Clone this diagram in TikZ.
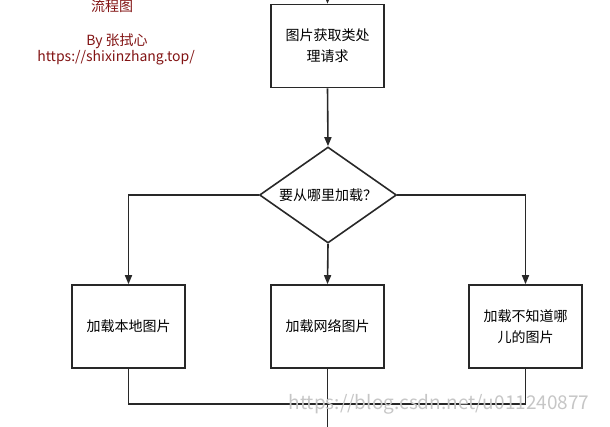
\documentclass[tikz,border=0pt]{standalone}
\usepackage{fontspec}
\setmainfont{Noto Sans CJK SC}
\usetikzlibrary{shapes.geometric,arrows.meta}
\definecolor{redtxt}{RGB}{130,20,20}
\definecolor{ln}{RGB}{40,40,40}
\tikzset{
  box/.style={draw=ln,line width=1.6pt,minimum width=113pt,minimum height=83pt,align=center,font=\fontsize{14}{21}\selectfont,text width=100pt},
  dia/.style={draw=ln,line width=1.6pt,diamond,minimum width=137pt,minimum height=96pt,inner sep=0pt,aspect=1.43,font=\fontsize{14}{16}\selectfont},
  conn/.style={draw=ln,line width=1.6pt},
  arr/.style={conn,-{Triangle[length=9pt,width=7pt]}},
  red/.style={text=redtxt,font=\fontsize{14}{16}\selectfont}
}
\begin{document}
\begin{tikzpicture}[x=1pt,y=-1pt]
\useasboundingbox (0,0) rectangle (610,426);
\node[red] (t1) at (112,6) {流程图};
\node[red] (t2) at (117,41) {By 张拭心};
\node[red] (t3) at (116,58) {https://shixinzhang.top/};
\node[box] (top) at (327.5,46) {图片获取类处\\理请求};
\coordinate (in) at (327.5,-2);
\draw[arr] (in) -- (top.north);
\node[dia] (d) at (328,195) {要从哪里加载？};
\draw[arr] (top.south) -- (d.north);
\node[box] (l) at (128.5,326.5) {加载本地图片};
\node[box] (m) at (327.5,326.5) {加载网络图片};
\node[box] (r) at (525.5,326.5) {加载不知道哪\\儿的图片};
\draw[arr] (d.west) -| (l.north);
\draw[arr] (d.east) -| (r.north);
\draw[arr] (d.south) -- (m.north);
\coordinate (bl) at (128.5,404);
\coordinate (br) at (525.5,404);
\coordinate (out) at (327.5,430);
\draw[conn] (l.south) -- (bl) -- (br) -- (r.south);
\draw[conn] (m.south) -- (out);
\node[text=gray!45,font=\fontsize{19}{20}\selectfont] (wm) at (439,404) {https://blog.csdn.net/u011240877};
\end{tikzpicture}
\end{document}
